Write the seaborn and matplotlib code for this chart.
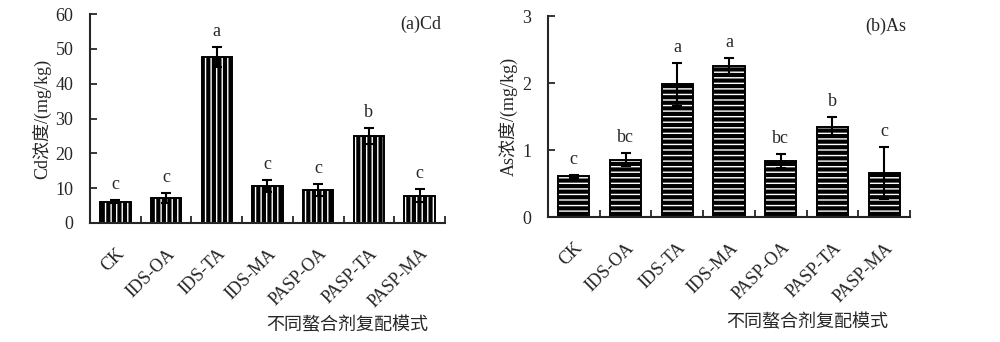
import matplotlib
matplotlib.use('Agg')
import matplotlib.pyplot as plt
import seaborn as sns
import numpy as np

categories = ['CK', 'IDS-OA', 'IDS-TA', 'IDS-MA', 'PASP-OA', 'PASP-TA', 'PASP-MA']
cd_mean = [6.1, 7.2, 47.7, 10.7, 9.5, 25.0, 7.8]
cd_err = [0.5, 1.5, 2.9, 1.7, 1.8, 2.4, 1.9]
cd_letters = ['c', 'c', 'a', 'c', 'c', 'b', 'c']
as_mean = [0.61, 0.86, 1.98, 2.26, 0.84, 1.35, 0.66]
as_err = [0.02, 0.10, 0.32, 0.12, 0.10, 0.14, 0.39]
as_letters = ['c', 'bc', 'a', 'a', 'bc', 'b', 'c']
cd_ticks = [0, 10, 20, 30, 40, 50, 60]
as_ticks = [0, 1, 2, 3]

sns.set_style('ticks')
plt.rcParams['font.family'] = ['Liberation Serif', 'Noto Sans CJK SC']
plt.rcParams['font.size'] = 13
plt.rcParams['hatch.linewidth'] = 3.0
plt.rcParams['hatch.color'] = 'black'

fig = plt.figure(figsize=(10, 3.42), dpi=100)
ax1 = fig.add_axes([0.09, 0.348, 0.355, 0.611])
ax2 = fig.add_axes([0.548, 0.365, 0.362, 0.588])

FS = 13


def panel(ax, mean, err, letters, hatch, ticks, ylabel, title, xl_pos):
    sns.barplot(x=categories, y=mean, ax=ax, color='white', edgecolor='black',
                linewidth=1.4, width=0.6, errorbar=None, saturation=1)
    for p in ax.patches:
        p.set_hatch(hatch)
        p.set_edgecolor('black')
    x = np.arange(len(categories))
    ax.errorbar(x, mean, yerr=err, fmt='none', ecolor='black', elinewidth=1.5,
                capsize=3.8, capthick=1.5, zorder=5)
    for i, (m, e, l) in enumerate(zip(mean, err, letters)):
        ax.annotate(l, (i, m + e), xytext=(0, 5), textcoords='offset points',
                    ha='center', va='bottom', fontsize=FS)
    ax.set_xlim(-0.5, len(categories) - 0.5)
    ax.set_ylim(ticks[0], ticks[-1])
    ax.set_yticks(ticks)
    ax.tick_params(axis='y', direction='in', length=5, width=1.3, pad=12, labelsize=FS)
    ax.set_xticks(x)
    ax.set_xticklabels(categories, rotation=45, ha='right', rotation_mode='anchor')
    ax.tick_params(axis='x', which='major', length=0, pad=16, labelsize=FS)
    ax.set_xticks(np.arange(len(categories) + 1) - 0.5, minor=True)
    ax.tick_params(axis='x', which='minor', direction='in', length=5, width=1.3)
    for s in ['top', 'right']:
        ax.spines[s].set_visible(False)
    for s in ['left', 'bottom']:
        ax.spines[s].set_linewidth(1.5)
    ax.set_ylabel(ylabel, fontsize=FS, labelpad=3)
    ax.set_xlabel('不同螯合剂复配模式', fontsize=FS)
    ax.xaxis.set_label_coords(*xl_pos)
    ax.text(0.99, 0.99, title, transform=ax.transAxes, ha='right', va='top', fontsize=FS)


panel(ax1, cd_mean, cd_err, cd_letters, '|||', cd_ticks, 'Cd浓度/(mg/kg)', '(a)Cd', (0.724, -0.45))
panel(ax2, as_mean, as_err, as_letters, '---', as_ticks, 'As浓度/(mg/kg)', '(b)As', (0.717, -0.48))

fig.savefig('out.png', dpi=100)
